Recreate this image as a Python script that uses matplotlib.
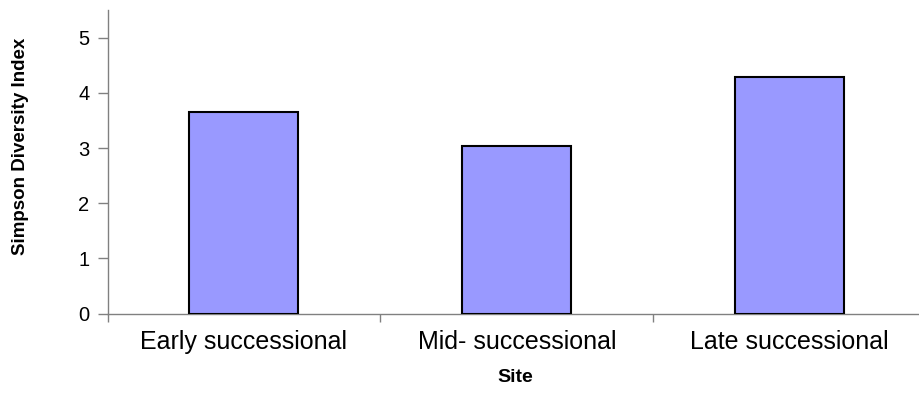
import matplotlib
matplotlib.use("Agg")
import matplotlib.pyplot as plt
import numpy as np

sites = ["Early successional", "Mid- successional", "Late successional"]
simpson = [3.65, 3.03, 4.29]

plt.rcParams["font.family"] = ["Liberation Sans", "DejaVu Sans"]

fig = plt.figure(figsize=(9.19, 3.93), dpi=100)
W, H = 919, 393
# axes in pixel coordinates: left 107.5, right 926 (runs off the edge), bottom 313.7, top 10
x0, x1, y0, y1 = 107.5, 926, 313.7, 10
ax = fig.add_axes([x0 / W, (H - y0) / H, (x1 - x0) / W, (y0 - y1) / H])

x = np.arange(len(sites))
ax.bar(x, simpson, width=0.4, color="#9999FF", edgecolor="black", linewidth=1.5, zorder=3)

ax.set_xlim(-0.5, len(sites) - 0.5)
ax.set_ylim(0, 5.5)
ax.set_yticks(range(6))

# boundaries get the tick marks, category names sit between them
ax.set_xticks(np.arange(-0.5, len(sites), 1.0))
ax.set_xticklabels([])
ax.set_xticks(x, minor=True)
ax.set_xticklabels(sites, minor=True, fontsize=18)
ax.tick_params(axis="x", which="minor", length=0, pad=12)
ax.tick_params(axis="x", which="major", length=6, width=1, color="#808080", direction="out")
ax.tick_params(axis="y", length=7, width=1, color="#808080", direction="out", labelsize=14.5, pad=6)

for side in ["top", "right"]:
    ax.spines[side].set_visible(False)
for side in ["left", "bottom"]:
    ax.spines[side].set_color("#808080")
    ax.spines[side].set_linewidth(1)

ax.set_xlabel("Site", fontsize=14, fontweight="bold")
ax.set_ylabel("Simpson Diversity Index", fontsize=13.5, fontweight="bold")
ax.xaxis.set_label_coords((515 - x0) / (x1 - x0), -(369 - y0) / (y0 - y1))
ax.yaxis.set_label_coords(-(x0 - 29) / (x1 - x0), (y0 - 146.5) / (y0 - y1))

fig.savefig("out.png", dpi=100)
